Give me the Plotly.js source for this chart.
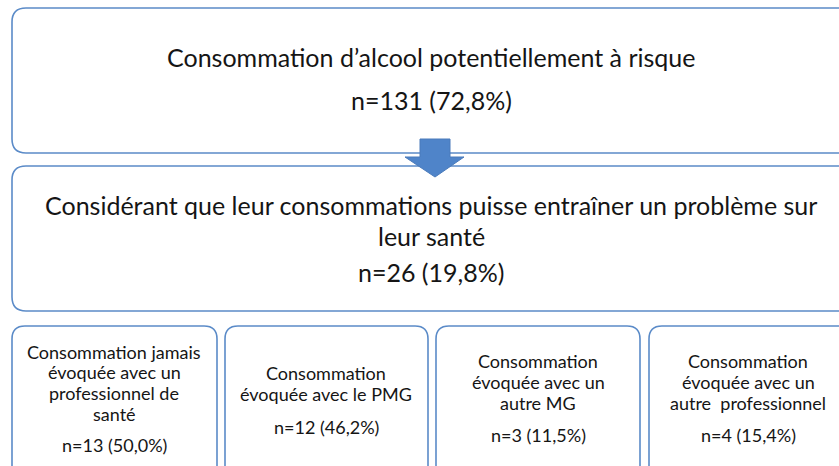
<!DOCTYPE html>
<html>
<head>
<meta charset="utf-8">
<script src="https://cdn.plot.ly/plotly-3.0.1.min.js"></script>
<style>html,body{margin:0;padding:0;background:#fff;}#chart{width:839px;height:466px;}</style>
</head>
<body>
<div id="chart"></div>
<script>
// ---- content (data) ----
const levelLabels = [
  "Consommation d’alcool potentiellement à risque",
  "Considérant que leur consommations puisse entraîner un problème sur<br>leur santé"
];
const levelN = [131, 26];
const levelPct = ["72,8%", "19,8%"];

const branchLabels = [
  "Consommation jamais<br>évoquée avec un<br>professionnel de<br>santé",
  "Consommation<br>évoquée avec le PMG",
  "Consommation<br>évoquée avec un<br>autre MG",
  "Consommation<br>évoquée avec un<br>autre  professionnel"
];
const branchN = [13, 12, 3, 4];
const branchPct = ["50,0%", "46,2%", "11,5%", "15,4%"];

// ---- layout geometry (pixel-like data coordinates) ----
const W = 839, H = 466;
const levelBoxes = [ [12, 8, 852, 153], [12, 166, 852, 311] ];
const levelLineY = [[57], [205, 236]];
const levelNY = [100, 272];
const levelCX = 431;
const branchBoxes = [ [12, 326, 217, 490], [225, 326, 428, 490], [436, 326, 640, 490], [649, 326, 852, 490] ];
const branchLineY = [[352, 372, 393, 414], [373, 394], [361, 382, 403], [361, 382, 403]];
const branchNY = [445, 427, 435, 435];
const branchCX = [114, 326, 538, 748];

const lineCol = "#5b8bc8";
const textCol = "#151515";
const font = "Lato, 'Open Sans', sans-serif";
const bigSize = 25, smallSize = 18;

function roundRect(b, r) {
  const [x0, y0, x1, y1] = b;
  return `M${x0 + r},${y0} L${x1 - r},${y0} Q${x1},${y0} ${x1},${y0 + r} L${x1},${y1 - r} Q${x1},${y1} ${x1 - r},${y1} L${x0 + r},${y1} Q${x0},${y1} ${x0},${y1 - r} L${x0},${y0 + r} Q${x0},${y0} ${x0 + r},${y0} Z`;
}

const shapes = [];
levelBoxes.forEach(b => shapes.push({type: 'path', xref: 'x', yref: 'y', path: roundRect(b, 14),
  line: {color: lineCol, width: 1.6}, fillcolor: 'rgba(0,0,0,0)'}));
branchBoxes.forEach(b => shapes.push({type: 'path', xref: 'x', yref: 'y', path: roundRect(b, 13),
  line: {color: lineCol, width: 1.6}, fillcolor: 'rgba(0,0,0,0)'}));
// down arrow between level boxes
shapes.push({type: 'path', xref: 'x', yref: 'y',
  path: 'M420,139 L450,139 L450,157 L464,157 L435,177 L405,157 L420,157 Z',
  fillcolor: '#4f84c9', line: {color: '#4a7bbb', width: 1}});

const annotations = [];
function addText(x, y, t, size) {
  annotations.push({x: x, y: y, xref: 'x', yref: 'y', text: t, showarrow: false,
    font: {family: font, size: size, color: textCol}, align: 'center', xanchor: 'center', yanchor: 'middle'});
}
levelLabels.forEach((t, i) => {
  t.split('<br>').forEach((line, k) => addText(levelCX, levelLineY[i][k], line, bigSize));
  addText(levelCX, levelNY[i], `n=${levelN[i]} (${levelPct[i]})`, bigSize);
});
branchLabels.forEach((t, i) => {
  t.split('<br>').forEach((line, k) => addText(branchCX[i], branchLineY[i][k], line, smallSize));
  addText(branchCX[i], branchNY[i], `n=${branchN[i]} (${branchPct[i]})`, smallSize);
});

const layout = {
  width: W, height: H,
  margin: {l: 0, r: 0, t: 0, b: 0},
  paper_bgcolor: '#fff', plot_bgcolor: '#fff',
  xaxis: {range: [0, W], visible: false, fixedrange: true},
  yaxis: {range: [H, 0], visible: false, fixedrange: true},
  shapes: shapes, annotations: annotations, showlegend: false
};
Plotly.newPlot('chart', [], layout, {staticPlot: true, displayModeBar: false});
</script>
</body>
</html>
